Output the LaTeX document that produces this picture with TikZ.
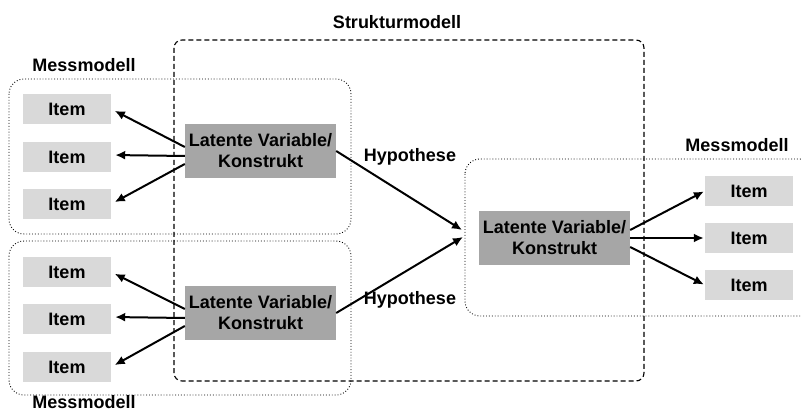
\documentclass[tikz,border=0pt]{standalone}
\usepackage{fontspec}
\setmainfont{Liberation Sans}
\usetikzlibrary{arrows.meta}
\definecolor{itemgrau}{HTML}{D9D9D9}
\definecolor{lvgrau}{HTML}{A6A6A6}
\tikzset{
  item/.style={fill=itemgrau, minimum width=88pt, minimum height=30pt, inner sep=0pt,
    font=\fontsize{18}{21}\selectfont\bfseries},
  latent/.style={fill=lvgrau, minimum width=151pt, minimum height=54pt, inner sep=0pt,
    align=center, font=\fontsize{18}{21}\selectfont\bfseries},
  titel/.style={font=\fontsize{18}{21}\selectfont\bfseries},
  messbox/.style={draw, line width=0.9pt, dotted, rounded corners=15pt},
  strukbox/.style={draw, line width=1.1pt, dash pattern=on 5pt off 3pt, rounded corners=8pt},
  pfeil/.style={line width=2pt, -{Latex[length=10pt,width=9pt]}}
}
\begin{document}
\begin{tikzpicture}[x=1pt,y=-1pt]
                \clip (0,0) rectangle (802,411);
                \draw[messbox] (9,79) rectangle (351,234); % Messmodell oben
                \draw[messbox] (9,241) rectangle (351,395); % Messmodell unten
                \draw[messbox] (465,159) rectangle (815,316); % Messmodell rechts
                \draw[strukbox] (174,40) rectangle (644,381); % Strukturmodell
                \node[titel] (t0) at (397,22) {Strukturmodell};
                \node[titel] (t1) at (84,65) {Messmodell};
                \node[titel, inner sep=0pt] (t2) at (84,402) {Messmodell};
                \node[titel] (t3) at (737,145) {Messmodell};
                \node[latent] (lv1) at (260.5,151) {Latente Variable/\\Konstrukt};
                \node[latent] (lv2) at (260.5,313) {Latente Variable/\\Konstrukt};
                \node[latent] (lv3) at (554.5,238) {Latente Variable/\\Konstrukt};
                \node[item] (a1) at (67,109) {Item};
                \node[item] (a2) at (67,157) {Item};
                \node[item] (a3) at (67,204) {Item};
                \node[item] (b1) at (67,272) {Item};
                \node[item] (b2) at (67,319) {Item};
                \node[item] (b3) at (67,367) {Item};
                \node[item] (c1) at (749,191) {Item};
                \node[item] (c2) at (749,238) {Item};
                \node[item] (c3) at (749,285) {Item};
                \coordinate (h1) at (462,230);
                \coordinate (h2) at (463,237);
                \draw[pfeil, shorten >=4pt] ([yshift=4pt]lv1.west) -- (a1.east);
                \draw[pfeil, shorten >=4pt] ([yshift=-5pt]lv1.west) -- ([yshift=2pt]a2.east);
                \draw[pfeil, shorten >=4pt] ([yshift=-13pt]lv1.west) -- (a3.east);
                \draw[pfeil, shorten >=4pt] ([yshift=4pt]lv2.west) -- (b1.east);
                \draw[pfeil, shorten >=4pt] ([yshift=-5pt]lv2.west) -- ([yshift=2pt]b2.east);
                \draw[pfeil, shorten >=4pt] ([yshift=-13pt]lv2.west) -- (b3.east);
                \draw[pfeil, shorten >=1pt] ([yshift=8pt]lv3.east) -- (c1.west);
                \draw[pfeil, shorten >=1pt] (lv3.east) -- (c2.west);
                \draw[pfeil, shorten >=1pt] ([yshift=-9pt]lv3.east) -- (c3.west);
                \draw[pfeil] (lv1.east) -- (h1);
                \draw[pfeil] (lv2.east) -- (h2);
                \node[titel] (hy1) at (410,157) {Hypothese};
                \node[titel] (hy2) at (410,300) {Hypothese};
                \end{tikzpicture}
\end{document}
